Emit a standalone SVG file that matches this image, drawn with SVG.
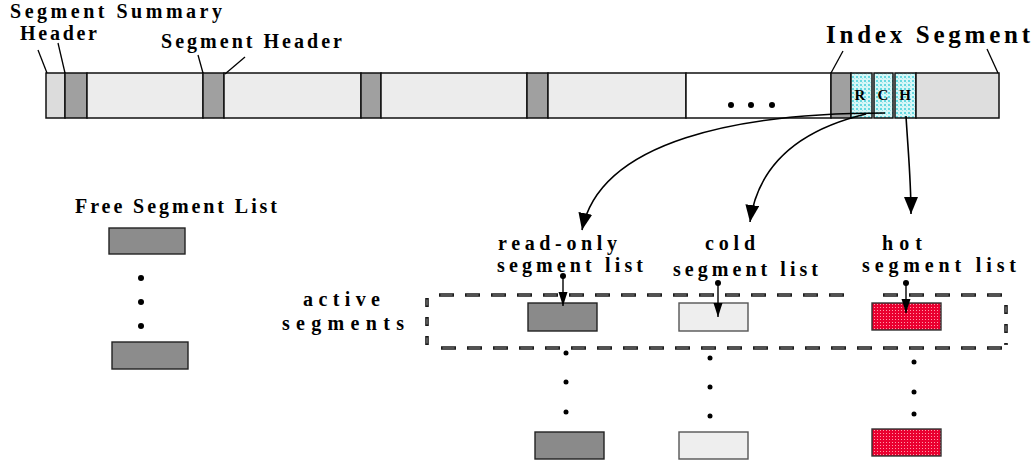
<svg xmlns="http://www.w3.org/2000/svg" width="1036" height="466" viewBox="0 0 1036 466">
  <style>
    .lbl { font-family: "Liberation Serif", "Times New Roman", serif; font-weight: bold; font-size: 20px; fill: #000; }
    .big { font-size: 25px; }
    .cell-lbl { font-family: "Liberation Serif", "Times New Roman", serif; font-weight: bold; font-size: 15px; fill: #000; text-anchor: middle; }
    .cell { stroke: #111; stroke-width: 1.5; }
    .light { fill: #ececec; }
    .dark { fill: #a0a0a0; }
    .pale { fill: #dcdcdc; }
    .blank { fill: #ffffff; }
    .idx { fill: url(#cyanDots); }
    .blk { stroke: #222; stroke-width: 1.4; }
    .ro { fill: #8a8a8a; }
    .cold { fill: #eeeeee; stroke: #555; }
    .hot { fill: url(#redDots); stroke: #333; }
    .leader { stroke: #000; stroke-width: 1.3; fill: none; }
    .conn { stroke: #000; stroke-width: 1.6; fill: none; }
    .ptr { stroke: #000; stroke-width: 1.4; fill: none; }
    .dashO { stroke: #1a1a1a; stroke-width: 3.6; fill: none; stroke-dasharray: 15 11; }
    .dashI { stroke: #8a8a8a; stroke-width: 1.1; fill: none; stroke-dasharray: 12 14; stroke-dashoffset: -1.5; }
    .vdashO { stroke: #1a1a1a; stroke-width: 3.6; fill: none; stroke-dasharray: 9 10; }
    .vdashI { stroke: #8a8a8a; stroke-width: 1.1; fill: none; stroke-dasharray: 6 13; stroke-dashoffset: -1.5; }
  </style>
  <defs>
    <pattern id="cyanDots" width="4" height="4" patternUnits="userSpaceOnUse">
      <rect width="4" height="4" fill="#d6f7f7"/>
      <rect x="0" y="0" width="2" height="2" fill="#66d8e0"/>
      <rect x="2" y="2" width="1" height="1" fill="#9ee8ee"/>
    </pattern>
    <pattern id="redDots" width="3" height="3" patternUnits="userSpaceOnUse">
      <rect width="3" height="3" fill="#ea0030"/>
      <rect x="1" y="1" width="1" height="1" fill="#ff9aa8"/>
    </pattern>
    <marker id="ah" markerUnits="userSpaceOnUse" markerWidth="18" markerHeight="15" refX="17" refY="7" orient="auto">
      <path d="M0,0 L17,7 L0,14 Z" fill="#000"/>
    </marker>
    <marker id="ahs" markerUnits="userSpaceOnUse" markerWidth="15" markerHeight="10" refX="14" refY="4.5" orient="auto">
      <path d="M0,0 L14,4.5 L0,9 Z" fill="#000"/>
    </marker>
  </defs>

  <rect width="1036" height="466" fill="#ffffff"/>

  <!-- log strip of segments -->
  <g id="log-strip">
    <rect class="cell pale" x="46" y="73" width="19" height="45"/>
    <rect class="cell dark" x="65" y="73" width="22" height="45"/>
    <rect class="cell light" x="87" y="73" width="116" height="45"/>
    <rect class="cell dark" x="203" y="73" width="21" height="45"/>
    <rect class="cell light" x="224" y="73" width="137" height="45"/>
    <rect class="cell dark" x="361" y="73" width="20" height="45"/>
    <rect class="cell light" x="381" y="73" width="146" height="45"/>
    <rect class="cell dark" x="527" y="73" width="21" height="45"/>
    <rect class="cell light" x="548" y="73" width="138" height="45"/>
    <rect class="cell blank" x="686" y="73" width="145" height="45"/>
    <circle cx="731" cy="105" r="3"/>
    <circle cx="751" cy="105" r="3"/>
    <circle cx="772" cy="105" r="3"/>
    <rect class="cell dark" x="831" y="73" width="20" height="45"/>
    <rect class="cell idx" x="851" y="73" width="21" height="45"/>
    <rect class="cell idx" x="874" y="73" width="19" height="45"/>
    <rect class="cell idx" x="895" y="73" width="21" height="45"/>
    <rect class="cell" fill="#dedede" x="916" y="73" width="83" height="45"/>
    <text class="cell-lbl" x="860" y="100">R</text>
    <text class="cell-lbl" x="883" y="100">C</text>
    <text class="cell-lbl" x="905" y="100">H</text>
  </g>

  <!-- callouts on the strip -->
  <g id="label-summary-header">
    <text class="lbl" x="10" y="18" textLength="212" lengthAdjust="spacing">Segment Summary</text>
    <text class="lbl" x="20" y="40" textLength="77" lengthAdjust="spacing">Header</text>
    <line class="leader" x1="47" y1="73" x2="38" y2="50"/>
    <line class="leader" x1="65" y1="73" x2="58" y2="43"/>
  </g>
  <g id="label-segment-header">
    <text class="lbl" x="161" y="48" textLength="181" lengthAdjust="spacing">Segment Header</text>
    <line class="leader" x1="203" y1="73" x2="198" y2="55"/>
    <line class="leader" x1="225" y1="74" x2="245" y2="57"/>
  </g>
  <g id="label-index-segment">
    <text class="lbl big" x="826" y="43" textLength="204" lengthAdjust="spacing">Index Segment</text>
    <line class="leader" x1="831" y1="73" x2="843" y2="51"/>
    <line class="leader" x1="998" y1="73" x2="987" y2="49"/>
  </g>

  <!-- free segment list -->
  <g id="free-list">
    <text class="lbl" x="75" y="213" textLength="202" lengthAdjust="spacing">Free Segment List</text>
    <rect class="blk" fill="#8c8c8c" x="109" y="228" width="76" height="26"/>
    <circle cx="141" cy="278" r="3"/>
    <circle cx="141" cy="302" r="3"/>
    <circle cx="141" cy="326" r="3"/>
    <rect class="blk" fill="#8c8c8c" x="112" y="342" width="76" height="27"/>
  </g>

  <!-- active segments box -->
  <g id="active-box">
    <text class="lbl" x="303" y="306" textLength="77" lengthAdjust="spacing">active</text>
    <text class="lbl" x="282" y="330" textLength="122" lengthAdjust="spacing">segments</text>
    <path class="dashO" d="M439 295 H845 M883 295 H1002"/>
    <path class="dashI" d="M439 295 H845 M883 295 H1002"/>
    <path class="dashO" d="M441 348 H1003"/>
    <path class="dashI" d="M441 348 H1003"/>
    <path class="vdashO" d="M427 298 V346"/>
    <path class="vdashI" d="M427 298 V346"/>
    <path class="vdashO" d="M1006 305 V345"/>
    <path class="vdashI" d="M1006 305 V345"/>
  </g>

  <!-- read-only segment list -->
  <g id="readonly-list">
    <text class="lbl" x="498" y="250" textLength="119" lengthAdjust="spacing">read-only</text>
    <text class="lbl" x="497" y="272" textLength="146" lengthAdjust="spacing">segment list</text>
    <rect class="blk ro" x="528" y="303" width="69" height="28"/>
    <circle cx="566" cy="353" r="2.5"/>
    <circle cx="566" cy="382" r="2.5"/>
    <circle cx="566" cy="412" r="2.5"/>
    <rect class="blk ro" x="535" y="432" width="69" height="27"/>
  </g>

  <!-- cold segment list -->
  <g id="cold-list">
    <text class="lbl" x="705" y="250" textLength="50" lengthAdjust="spacing">cold</text>
    <text class="lbl" x="673" y="276" textLength="145" lengthAdjust="spacing">segment list</text>
    <rect class="blk cold" x="679" y="303" width="69" height="28"/>
    <circle cx="710" cy="358" r="2.5"/>
    <circle cx="710" cy="387" r="2.5"/>
    <circle cx="710" cy="416" r="2.5"/>
    <rect class="blk cold" x="679" y="432" width="69" height="27"/>
  </g>

  <!-- hot segment list -->
  <g id="hot-list">
    <text class="lbl" x="882" y="250" textLength="40" lengthAdjust="spacing">hot</text>
    <text class="lbl" x="862" y="272" textLength="154" lengthAdjust="spacing">segment list</text>
    <rect class="blk hot" x="872" y="303" width="69" height="27"/>
    <circle cx="914" cy="362" r="2.5"/>
    <circle cx="914" cy="392" r="2.5"/>
    <circle cx="914" cy="414" r="2.5"/>
    <rect class="blk hot" x="872" y="429" width="69" height="27"/>
  </g>

  <!-- connectors -->
  <g id="connectors">
    <path class="conn" marker-end="url(#ah)" d="M885 113 C 740 113 600 140 582 230"/>
    <path class="conn" marker-end="url(#ah)" d="M866 114 C 820 125 760 150 750 222"/>
    <path class="conn" marker-end="url(#ah)" d="M906 116 C 908 150 911 180 911 214"/>
    <circle cx="563" cy="276" r="3"/>
    <path class="ptr" marker-end="url(#ahs)" d="M563 276 V306"/>
    <circle cx="718" cy="283" r="3"/>
    <path class="ptr" marker-end="url(#ahs)" d="M718 283 V317"/>
    <circle cx="906" cy="283" r="3"/>
    <path class="ptr" marker-end="url(#ahs)" d="M906 283 V313"/>
  </g>
</svg>
